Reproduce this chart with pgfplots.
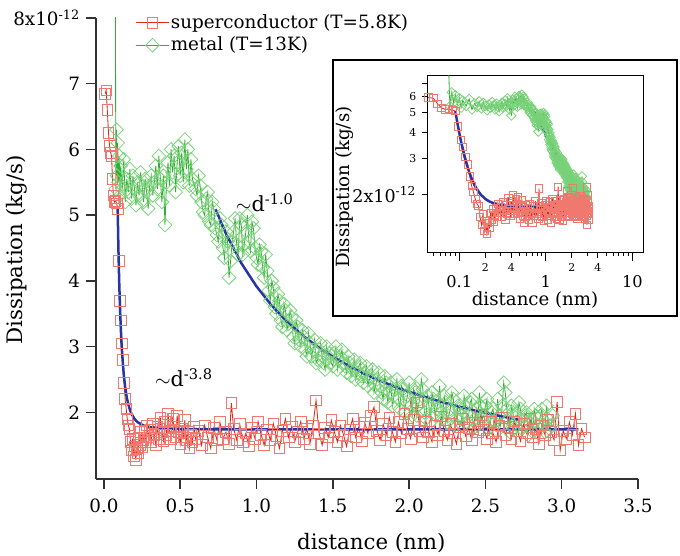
\documentclass[border=0pt]{standalone}
\usepackage{fontspec}
\setmainfont{DejaVu Serif}
\usepackage{pgfplots}
\usepackage{pgfplotstable}
\pgfplotsset{compat=1.18}
\definecolor{redline}{RGB}{222,40,28}
\definecolor{redmark}{RGB}{240,120,110}
\definecolor{greenline}{RGB}{50,175,50}
\definecolor{greenmark}{RGB}{120,210,120}
\definecolor{fitblue}{RGB}{40,52,165}
\definecolor{axgray}{RGB}{50,50,50}

\pgfplotstableread{
x y
0.008 6.85
0.015 6.90
0.022 6.60
0.030 6.25
0.037 6.05
0.044 5.95
0.050 5.90
0.056 5.55
0.062 5.30
0.069 5.20
0.076 5.22
0.083 5.18
0.090 5.10
0.097 4.30
0.104 3.70
0.111 3.40
0.118 3.05
0.125 2.80
0.132 2.45
0.139 2.20
0.146 2.05
0.153 1.90
0.160 1.80
0.167 1.75
0.174 1.55
0.181 1.42
0.188 1.60
0.195 1.33
0.202 1.48
0.209 1.28
0.216 1.45
0.223 1.38
0.230 1.62
0.237 1.50
0.244 1.70
0.251 1.47
0.258 1.58
0.265 1.72
0.272 1.55
0.28 1.80
0.29 1.62
0.30 1.74
0.31 1.55
0.32 1.83
0.33 1.66
0.34 1.50
0.35 1.78
0.36 1.60
0.37 1.92
0.38 1.70
0.39 1.57
0.40 1.85
0.41 1.66
0.42 1.98
0.43 1.72
0.44 1.60
0.45 1.90
0.46 1.78
0.47 1.63
0.48 1.95
0.49 1.70
0.50 1.52
0.51 1.75
0.52 1.62
0.53 1.88
0.54 1.58
0.55 1.70
0.56 1.45
0.57 1.66
0.58 1.55
0.59 1.78
0.60 1.60
0.62 1.72
0.64 1.50
0.66 1.80
0.68 1.62
0.70 1.45
0.72 1.76
0.74 1.58
0.76 1.85
0.78 1.60
0.80 1.70
0.82 1.52
0.835 2.14
0.85 1.75
0.87 1.58
0.89 1.82
0.91 1.55
0.93 1.68
0.95 1.48
0.97 1.77
0.99 1.60
1.01 1.86
1.03 1.66
1.05 1.50
1.07 1.74
1.09 1.58
1.11 1.83
1.13 1.64
1.15 1.45
1.17 1.72
1.19 1.90
1.21 1.62
1.23 1.78
1.25 1.55
1.27 1.70
1.29 1.86
1.31 1.60
1.33 1.75
1.35 1.52
1.37 1.80
1.39 2.18
1.41 1.68
1.43 1.50
1.45 1.76
1.47 1.62
1.49 1.88
1.51 1.70
1.53 1.55
1.55 1.80
1.57 1.66
1.59 1.48
1.61 1.74
1.63 1.90
1.65 1.62
1.67 1.78
1.69 1.56
1.71 1.84
1.73 1.68
1.75 1.95
1.77 2.08
1.79 1.72
1.81 1.58
1.83 1.82
1.85 1.66
1.87 1.92
1.89 1.70
1.91 1.55
1.93 1.85
1.95 1.68
1.97 1.98
1.99 1.75
2.01 1.60
2.03 1.88
2.05 2.15
2.07 1.72
2.09 1.62
2.11 1.86
2.13 1.70
2.15 1.55
2.17 1.80
2.19 1.66
2.21 1.94
2.23 1.72
2.25 1.58
2.27 1.82
2.29 1.68
2.31 1.52
2.33 1.78
2.35 1.90
2.37 1.64
2.39 1.76
2.41 1.58
2.43 1.84
2.45 1.70
2.47 1.96
2.49 1.73
2.51 1.60
2.53 1.85
2.55 1.68
2.57 1.55
2.59 1.80
2.61 1.92
2.63 1.66
2.65 1.78
2.67 1.60
2.69 1.86
2.71 1.72
2.73 1.56
2.75 1.82
2.77 1.68
2.79 1.90
2.81 1.62
2.83 1.75
2.85 1.52
2.87 1.80
2.89 1.66
2.91 1.88
2.93 1.70
2.95 1.58
2.97 2.16
2.99 1.42
3.01 1.72
3.03 1.60
3.05 1.85
3.07 1.66
3.09 1.98
3.11 1.50
3.13 1.75
3.15 1.62
}\redtab

\pgfplotstableread{
x y
0.075 8.60
0.078 5.40
0.082 6.30
0.086 5.60
0.090 6.10
0.095 5.50
0.100 5.90
0.105 5.30
0.11 5.75
0.12 5.40
0.13 5.85
0.14 5.20
0.15 5.55
0.16 5.35
0.17 5.70
0.18 5.25
0.19 5.60
0.20 5.40
0.21 5.15
0.22 5.50
0.23 5.30
0.24 5.65
0.25 5.45
0.26 5.20
0.27 5.55
0.28 5.35
0.29 5.10
0.30 5.45
0.31 5.60
0.32 5.30
0.33 5.50
0.34 5.75
0.35 5.40
0.36 5.90
0.37 5.55
0.38 5.20
0.39 5.60
0.40 4.85
0.41 5.50
0.42 5.80
0.43 5.45
0.44 6.00
0.45 5.65
0.46 5.90
0.47 5.35
0.48 5.80
0.49 6.05
0.50 5.60
0.51 5.95
0.52 5.50
0.53 6.15
0.54 5.70
0.55 6.00
0.56 5.45
0.57 5.85
0.58 5.55
0.60 5.40
0.61 5.30
0.62 5.60
0.63 5.45
0.64 5.20
0.65 5.05
0.66 5.00
0.67 5.25
0.68 5.35
0.69 4.90
0.70 4.85
0.71 5.20
0.72 5.10
0.73 4.80
0.74 4.70
0.75 4.60
0.76 4.95
0.77 4.85
0.78 4.50
0.79 4.35
0.80 4.75
0.81 4.60
0.82 4.05
0.83 4.30
0.84 4.60
0.85 4.75
0.86 4.95
0.87 4.55
0.88 4.40
0.89 4.95
0.90 4.85
0.91 4.40
0.92 4.55
0.93 4.75
0.94 5.00
0.95 4.60
0.96 4.45
0.97 4.90
0.98 4.80
0.99 4.50
1.00 4.35
1.01 4.25
1.02 4.55
1.03 4.45
1.04 4.20
1.05 4.05
1.06 4.40
1.07 4.15
1.08 3.85
1.09 3.70
1.10 4.00
1.11 3.90
1.12 3.60
1.13 3.50
1.14 3.80
1.15 3.70
1.16 3.40
1.17 3.30
1.18 3.65
1.19 3.55
1.20 3.25
1.21 3.35
1.22 3.55
1.23 3.45
1.24 3.15
1.25 3.05
1.26 3.40
1.27 3.30
1.28 3.10
1.29 3.00
1.30 3.25
1.31 3.15
1.32 2.95
1.33 2.85
1.34 3.20
1.35 3.05
1.36 2.85
1.37 2.95
1.38 3.10
1.39 2.75
1.40 2.80
1.41 2.95
1.42 3.05
1.43 2.85
1.44 2.75
1.45 2.65
1.46 3.00
1.47 2.85
1.48 2.90
1.49 2.75
1.50 2.70
1.51 2.90
1.52 3.00
1.53 2.65
1.54 2.80
1.55 2.85
1.56 2.95
1.57 2.75
1.58 2.70
1.59 2.60
1.60 2.85
1.61 2.75
1.62 2.55
1.63 2.65
1.64 2.80
1.65 2.50
1.66 2.60
1.67 2.70
1.68 2.75
1.69 2.55
1.70 2.45
1.71 2.60
1.72 2.70
1.73 2.40
1.74 2.50
1.75 2.55
1.76 2.65
1.77 2.30
1.78 2.40
1.79 2.50
1.80 2.60
1.81 2.40
1.82 2.30
1.83 2.20
1.84 2.55
1.85 2.45
1.86 2.15
1.87 2.30
1.88 2.45
1.89 2.10
1.90 2.25
1.91 2.35
1.92 2.50
1.93 2.20
1.94 2.05
1.95 2.40
1.96 2.35
1.97 2.00
1.98 2.15
1.99 2.25
2.00 2.45
2.01 2.10
2.02 1.95
2.03 2.35
2.04 2.30
2.05 1.95
2.06 2.10
2.07 2.20
2.08 2.50
2.09 2.35
2.10 2.00
2.11 1.90
2.12 2.25
2.13 2.10
2.14 1.85
2.15 2.30
2.16 2.20
2.17 1.95
2.18 2.05
2.19 2.15
2.20 2.40
2.21 2.00
2.22 1.90
2.23 2.25
2.24 2.15
2.25 1.85
2.26 1.95
2.27 2.05
2.28 2.30
2.29 2.20
2.30 1.80
2.31 1.90
2.32 2.10
2.33 2.05
2.34 1.95
2.35 1.80
2.36 2.25
2.37 2.10
2.38 1.85
2.39 1.95
2.40 2.15
2.41 2.20
2.42 1.75
2.43 1.90
2.44 2.05
2.45 1.80
2.46 2.30
2.47 2.10
2.48 1.90
2.49 1.95
2.50 2.10
2.51 2.20
2.52 1.75
2.53 1.85
2.54 2.00
2.55 2.05
2.56 1.85
2.57 1.70
2.58 2.20
2.59 1.95
2.60 1.80
2.61 2.10
2.62 2.45
2.63 2.30
2.64 2.05
2.65 1.90
2.66 1.70
2.67 2.10
2.68 2.00
2.69 1.75
2.70 1.85
2.71 1.95
2.72 2.15
2.73 2.05
2.74 1.75
2.75 1.80
2.76 1.95
2.77 2.00
2.78 1.65
2.79 1.85
2.80 1.90
2.81 1.70
2.82 2.05
2.83 1.95
2.84 1.70
2.85 1.80
2.86 1.95
2.87 2.05
2.88 1.80
2.89 1.70
2.90 2.10
2.91 1.90
2.92 1.75
2.93 1.80
2.94 1.95
}\greentab

\pgfplotstableread{
x y
0.090 5.10
0.095 4.48
0.100 3.99
0.105 3.61
0.110 3.31
0.115 3.06
0.120 2.87
0.130 2.57
0.140 2.37
0.150 2.22
0.160 2.12
0.170 2.04
0.180 1.98
0.190 1.94
0.200 1.90
0.220 1.85
0.250 1.81
0.300 1.775
0.350 1.76
0.400 1.752
0.500 1.745
0.700 1.741
1.000 1.740
2.000 1.740
3.110 1.740
}\fitA

\pgfplotstableread{
x y
0.732 5.090
0.80 4.717
0.90 4.271
1.00 3.915
1.10 3.623
1.20 3.380
1.30 3.175
1.40 2.998
1.50 2.846
1.60 2.712
1.70 2.594
1.80 2.489
1.90 2.395
2.00 2.311
2.20 2.165
2.40 2.044
2.60 1.941
2.713 1.889
}\fitB

\pgfplotsset{
  redstyle/.style={color=redline, line width=0.5pt, mark=square, mark size=#1,
    mark options={solid, draw=redmark, line width=0.45pt, fill=none}},
  greenstyle/.style={color=greenline, line width=0.5pt, mark=square, mark size=#1,
    mark options={solid, draw=greenmark, line width=0.45pt, fill=none, rotate=45}},
  fitstyle/.style={color=fitblue, line width=1.5pt, no marks},
}
\newcommand{\insetmaj}[1]{{\fontsize{9.7}{11}\selectfont\rmfamily\rule{0pt}{12.5pt}#1}}
\newcommand{\legfont}{\rmfamily\fontsize{11}{13}\selectfont}

\begin{document}
\begin{tikzpicture}
\useasboundingbox (-57.6pt,-45.6pt) rectangle (350.4pt,287.4pt);
\begin{axis}[
  at={(0pt,0pt)}, anchor=south west,
  scale only axis, width=325.2pt, height=276.6pt,
  xmin=-0.052, xmax=3.5, ymin=0.985, ymax=8.0,
  axis lines=left, axis line style={-, axgray, line width=0.9pt},
  tick align=outside, major tick length=6pt,
  tick style={axgray, line width=0.9pt},
  xtick={0,0.5,1,1.5,2,2.5,3,3.5},
  xticklabels={0.0,0.5,1.0,1.5,2.0,2.5,3.0,3.5},
  ytick={2,3,4,5,6,7,8},
  yticklabels={2,3,4,5,6,7,{8x10\textsuperscript{-12}}},
  ticklabel style={font=\rmfamily\fontsize{11}{13}\selectfont},
  xticklabel style={yshift=-2.5pt},
  xlabel={distance (nm)}, ylabel={Dissipation (kg/s)},
  every axis x label/.style={at={(axis description cs:0.508,-0.139)}, anchor=center, font=\rmfamily\fontsize{12.8}{15}\selectfont},
  every axis y label/.style={at={(axis description cs:-0.146,0.497)}, anchor=center, rotate=90, font=\rmfamily\fontsize{12.8}{15}\selectfont},
  legend style={at={(axis description cs:0.072,1.011)}, anchor=north west, draw=none, fill=none,
    inner sep=0pt, font=\legfont, row sep=2pt, nodes={inner sep=0.8pt}},
  legend cell align=left, reverse legend,
  legend image code/.code={\draw[mark repeat=2,mark phase=2,#1] plot coordinates {(0pt,0pt) (10pt,0pt) (20pt,0pt)};},
]
\addplot[greenstyle=2.9pt] table[x=x,y=y] {\greentab};
\addlegendentry{\legfont metal (T=13K)}
\addplot[redstyle=3.2pt] table[x=x,y=y] {\redtab};
\addlegendentry{\legfont superconductor (T=5.8K)}
\addplot[fitstyle, forget plot] table[x=x,y=y] {\fitA};
\addplot[fitstyle, forget plot] table[x=x,y=y] {\fitB};
\node[anchor=base west, font=\rmfamily\fontsize{12.5}{14}\selectfont, inner sep=0pt] at (axis cs:0.863,5.05) {$\sim$d\textsuperscript{-1.0}};
\node[anchor=base west, font=\rmfamily\fontsize{12.5}{14}\selectfont, inner sep=0pt] at (axis cs:0.333,2.39) {$\sim$d\textsuperscript{-3.8}};
\end{axis}

\draw[black, line width=0.9pt, fill=white] (142.2pt,97.8pt) rectangle (348.6pt,251.4pt);

\begin{axis}[
  at={(199.2pt,136.2pt)}, anchor=south west,
  scale only axis, width=129pt, height=106.2pt,
  xmode=log, ymode=log,
  xmin=0.0435, xmax=13.3, ymin=1.045, ymax=7.66,
  axis line style={black, line width=0.6pt},
  tick align=outside, xtick pos=left, ytick pos=left,
  major tick length=3.5pt, minor tick length=2.3pt,
  tick style={black, line width=0.6pt},
  xtick={0.2,0.4,2,4}, xticklabels={2,4,2,4},
  xticklabel style={font=\rmfamily\fontsize{6.5}{7}\selectfont},
  extra x ticks={0.1,1,10},
  extra x tick labels={\insetmaj{0.1},\insetmaj{1},\insetmaj{10}},
  extra x tick style={major tick length=5.5pt},
  minor xtick={0.05,0.06,0.07,0.08,0.09,0.3,0.5,0.6,0.7,0.8,0.9,3,5,6,7,8,9},
  ytick={2,3,4,5,6,7},
  yticklabels={{\fontsize{10.5}{12}\selectfont 2x10\textsuperscript{-12}},3,4,5,6,{}},
  yticklabel style={font=\rmfamily\fontsize{6.5}{7}\selectfont},
  xlabel={distance (nm)}, ylabel={Dissipation (kg/s)},
  every axis x label/.style={at={(axis description cs:0.498,-0.27)}, anchor=center, font=\rmfamily\fontsize{10.9}{12}\selectfont},
  every axis y label/.style={at={(axis description cs:-0.386,0.367)}, anchor=center, rotate=90, font=\rmfamily\fontsize{10.9}{12}\selectfont},
]
\addplot[greenstyle=2.0pt] table[x=x,y=y] {\greentab};
\addplot[redstyle=2.2pt] table[x=x,y=y] {\redtab};
\addplot[fitstyle] table[x=x,y=y] {\fitA};
\addplot[fitstyle] table[x=x,y=y] {\fitB};
\end{axis}
\end{tikzpicture}
\end{document}
